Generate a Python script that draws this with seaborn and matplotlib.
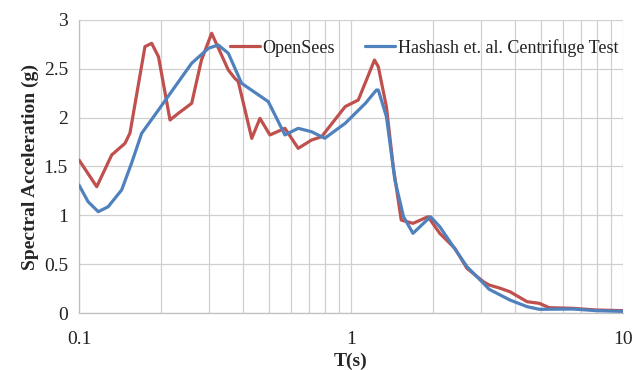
import numpy as np
import pandas as pd
import matplotlib
matplotlib.use("Agg")
import matplotlib.pyplot as plt
from matplotlib.ticker import FixedLocator, LogLocator, NullFormatter
import seaborn as sns

# OpenSees spectral acceleration
opensees_T = [0.100, 0.1162, 0.1319, 0.1476, 0.154, 0.1748, 0.185, 0.196, 0.2161, 0.232,
              0.2596, 0.282, 0.3074, 0.354, 0.374, 0.385, 0.4317, 0.4627, 0.5035, 0.5717,
              0.6395, 0.7161, 0.7796, 0.952, 1.064, 1.22, 1.26, 1.35, 1.43, 1.53,
              1.69, 1.92, 2.12, 2.41, 2.67, 3.07, 3.22, 3.54, 3.84, 4.44,
              4.93, 5.35, 6.54, 8.0, 10.0]
opensees_Sa = [1.567, 1.293, 1.618, 1.737, 1.843, 2.727, 2.761, 2.624, 1.976, 2.045,
               2.147, 2.59, 2.864, 2.488, 2.403, 2.37, 1.788, 1.993, 1.823, 1.891,
               1.686, 1.771, 1.805, 2.113, 2.181, 2.59, 2.522, 2.11, 1.498, 0.952,
               0.918, 0.986, 0.816, 0.662, 0.457, 0.32, 0.287, 0.253, 0.218, 0.116,
               0.099, 0.055, 0.048, 0.031, 0.024]

# Hashash et al. centrifuge test
test_T = [0.100, 0.108, 0.1177, 0.128, 0.1435, 0.156, 0.170, 0.196, 0.2254, 0.2596,
          0.299, 0.325, 0.354, 0.396, 0.4966, 0.5717, 0.6395, 0.7161, 0.801, 0.952,
          1.13, 1.24, 1.26, 1.35, 1.45, 1.56, 1.69, 1.96, 2.12, 2.67,
          3.07, 3.22, 3.54, 3.84, 4.44, 4.93, 6.54, 8.0, 10.0]
test_Sa = [1.31, 1.14, 1.037, 1.088, 1.26, 1.533, 1.84, 2.079, 2.317, 2.557,
           2.71, 2.744, 2.659, 2.352, 2.164, 1.823, 1.891, 1.856, 1.789, 1.942,
           2.147, 2.283, 2.283, 2.01, 1.362, 0.986, 0.816, 0.986, 0.884, 0.474,
           0.304, 0.243, 0.184, 0.133, 0.065, 0.038, 0.041, 0.024, 0.017]

y_ticks = [0, 0.5, 1, 1.5, 2, 2.5, 3]
y_tick_labels = ["0", "0.5", "1", "1.5", "2", "2.5", "3"]
x_ticks = [0.1, 1, 10]
x_tick_labels = ["0.1", "1", "10"]

sns.set_style("white")
plt.rcParams["font.family"] = ["Liberation Serif", "DejaVu Serif"]

fig = plt.figure(figsize=(6.37, 3.70), dpi=100)
ax = fig.add_axes([0.124, 0.154, 0.854, 0.792])

df1 = pd.DataFrame({"T": opensees_T, "Sa": opensees_Sa})
df2 = pd.DataFrame({"T": test_T, "Sa": test_Sa})
red = "#C0504D"
blue = "#4F81BD"
sns.lineplot(data=df1, x="T", y="Sa", ax=ax, color=red, lw=2.3, sort=False,
             estimator=None, label="OpenSees", zorder=3)
sns.lineplot(data=df2, x="T", y="Sa", ax=ax, color=blue, lw=2.3, sort=False,
             estimator=None, label="Hashash et. al. Centrifuge Test", zorder=4)

ax.set_xscale("log")
ax.set_xlim(0.1, 10)
ax.set_ylim(0, 3)
ax.xaxis.set_major_locator(FixedLocator(x_ticks))
ax.set_xticklabels(x_tick_labels)
ax.xaxis.set_minor_locator(LogLocator(base=10, subs=np.arange(2, 10)))
ax.xaxis.set_minor_formatter(NullFormatter())
ax.set_yticks(y_ticks)
ax.set_yticklabels(y_tick_labels)

gc = "#D0D0D0"
ax.grid(True, which="major", axis="both", color=gc, lw=0.9)
ax.grid(True, which="minor", axis="x", color=gc, lw=0.9)
for s in ["top", "right"]:
    ax.spines[s].set_visible(False)
for s in ["left", "bottom"]:
    ax.spines[s].set_color("#BFBFBF")
    ax.spines[s].set_linewidth(0.9)
ax.tick_params(axis="both", which="major", length=4, color="#BFBFBF", width=0.9,
               labelsize=14, labelcolor="#222222", pad=4)
ax.tick_params(axis="x", which="minor", length=0)
ax.tick_params(axis="x", which="major", pad=9)

ax.set_xlabel("T(s)", fontsize=14, fontweight="bold", labelpad=3)
ax.set_ylabel("Spectral Acceleration (g)", fontsize=14, fontweight="bold", labelpad=3)

leg = ax.legend(loc="upper right", ncol=2, frameon=False, fontsize=13,
                bbox_to_anchor=(1.005, 0.96), handlelength=1.65, handletextpad=0.15,
                columnspacing=1.7, borderaxespad=0)
for t in leg.get_texts():
    t.set_color("#222222")

fig.savefig("out.png", dpi=100)
